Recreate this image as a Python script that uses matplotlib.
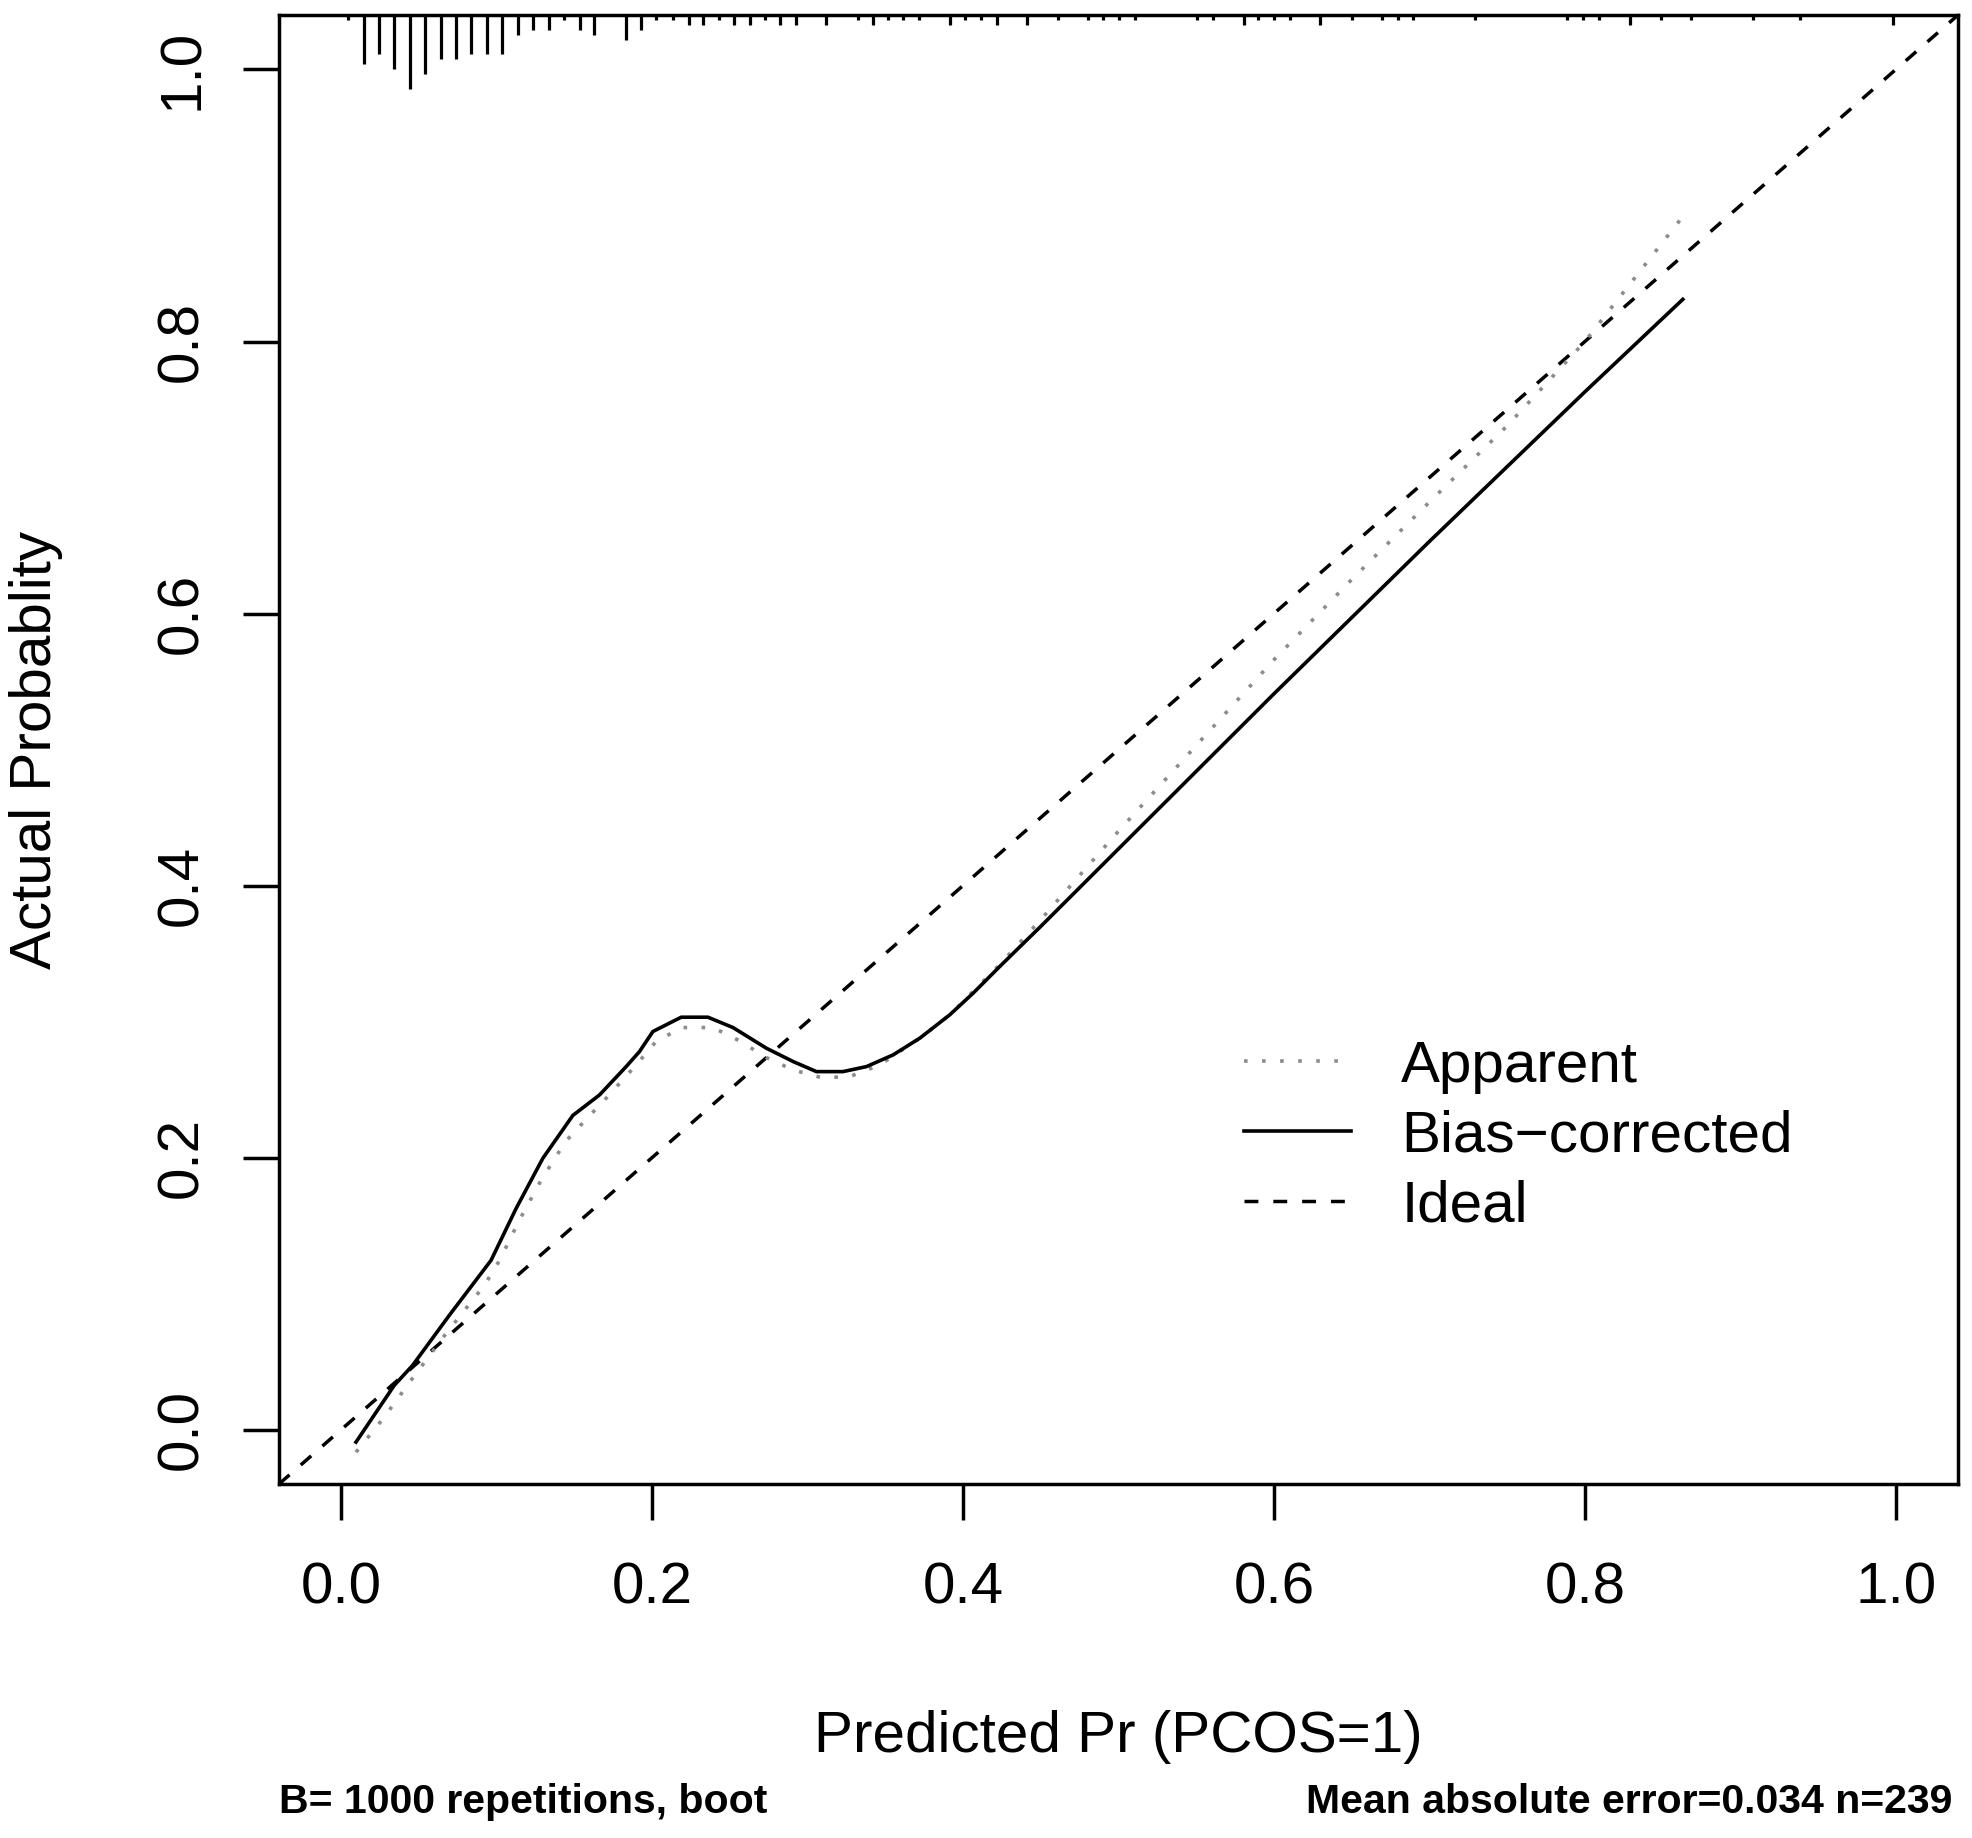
import numpy as np
import matplotlib
matplotlib.use("Agg")
import matplotlib.pyplot as plt

# calibration curves
apparent_x = [0.0095, 0.0277, 0.0444, 0.0674, 0.0921, 0.1017, 0.1146, 0.1286, 0.1442,
              0.1571, 0.1704, 0.1897, 0.2025, 0.2112, 0.2198, 0.2391, 0.2563, 0.2735,
              0.2907, 0.3089, 0.3271, 0.3464, 0.3722, 0.3915, 0.4237, 0.45, 0.50, 0.55,
              0.60, 0.65, 0.70, 0.75, 0.80, 0.861]
apparent_y = [-0.0166, 0.0092, 0.0355, 0.0706, 0.1061, 0.1241, 0.1540, 0.1834, 0.2117,
              0.2276, 0.2436, 0.2681, 0.2853, 0.2907, 0.2956, 0.2956, 0.2858, 0.2735,
              0.2644, 0.2588, 0.2595, 0.2681, 0.2878, 0.3050, 0.3420, 0.375, 0.440, 0.503,
              0.566, 0.625, 0.682, 0.738, 0.800, 0.889]

bias_x = [0.0095, 0.0341, 0.0459, 0.0695, 0.0964, 0.1125, 0.1297, 0.1490, 0.1661, 0.1833,
          0.1919, 0.2005, 0.2187, 0.2359, 0.2520, 0.2735, 0.2907, 0.3057, 0.3228, 0.3379,
          0.3550, 0.3722, 0.3915, 0.4065, 0.4237, 0.45, 0.50, 0.55, 0.60, 0.65, 0.70,
          0.75, 0.80, 0.863]
bias_y = [-0.0092, 0.0325, 0.0472, 0.0840, 0.1245, 0.1626, 0.1995, 0.2310, 0.2460, 0.2669,
          0.2780, 0.2927, 0.3032, 0.3032, 0.2956, 0.2804, 0.2706, 0.2632, 0.2632, 0.2669,
          0.2755, 0.2878, 0.3050, 0.3209, 0.3406, 0.370, 0.427, 0.484, 0.541, 0.597, 0.653,
          0.708, 0.763, 0.831]

# spike histogram of predicted probabilities (top rug)
rug_x = [0.0045, 0.0144, 0.0240, 0.0341, 0.0442, 0.0539, 0.0642, 0.0738, 0.0837, 0.0938,
         0.1035, 0.1135, 0.1236, 0.1335, 0.1432, 0.1533, 0.1629, 0.1833, 0.1930, 0.2026,
         0.2134, 0.2234, 0.2327, 0.2428, 0.2526, 0.2627, 0.2724, 0.2825, 0.2923, 0.3121,
         0.3321, 0.3421, 0.3518, 0.3614, 0.3717, 0.3915, 0.4012, 0.4113, 0.4216, 0.4409,
         0.4608, 0.4806, 0.4902, 0.5003, 0.5106, 0.5503, 0.5606, 0.5804, 0.5900, 0.6003,
         0.6104, 0.6298, 0.6501, 0.6695, 0.6798, 0.6894, 0.7296, 0.7886, 0.7987, 0.8090,
         0.8289, 0.8487, 0.8684, 0.9084, 0.9382, 0.9979]
rug_n = [1, 10, 8, 11, 15, 12, 9, 9, 8, 8,
         8, 4, 3, 3, 1, 3, 4, 5, 3, 1,
         1, 2, 2, 1, 2, 2, 1, 2, 2, 2,
         1, 2, 1, 1, 1, 2, 1, 1, 2, 2,
         1, 1, 1, 1, 1, 1, 1, 2, 1, 1,
         1, 2, 1, 1, 1, 1, 1, 1, 1, 1,
         2, 1, 1, 1, 1, 2]

ticks = [0.0, 0.2, 0.4, 0.6, 0.8, 1.0]
tick_labels = ["0.0", "0.2", "0.4", "0.6", "0.8", "1.0"]

plt.rcParams['font.family'] = ['Liberation Sans', 'DejaVu Sans']

fig = plt.figure(figsize=(19.72, 18.38), dpi=100)
ax = fig.add_axes([0.1415, 0.1926, 0.8514, 0.7992])
ax.set_xlim(-0.04, 1.04)
ax.set_ylim(-0.04, 1.04)

ax.axline((0, 0), (1, 1), color='black', lw=2.5, linestyle=(0, (4, 4.3)), label='Ideal')
ax.plot(apparent_x, apparent_y, color='#8c8c8c', lw=2.6, linestyle=(0, (1, 4)), label='Apparent')
ax.plot(bias_x, bias_y, color='black', lw=2.6, label='Bias\u2212corrected')

# spikes hang from the top of the frame, 15 counts ~ 5% of the axis range
top = 1.04
spike = 0.054 / 15
h = np.array(rug_n) * spike
ax.vlines(rug_x, top - h, top, color='black', lw=2.3)

for s in ax.spines.values():
    s.set_linewidth(2.5)

ax.set_xticks(ticks)
ax.set_xticklabels(tick_labels)
ax.set_yticks(ticks)
ax.set_yticklabels(tick_labels, rotation=90, va='center')
ax.tick_params(length=26, width=2.5, labelsize=42)
ax.tick_params(axis='x', pad=30)
ax.tick_params(axis='y', pad=24)

ax.set_xlabel('Predicted Pr (PCOS=1)', fontsize=42, va='center')
ax.xaxis.set_label_coords(0.5, -0.172)
ax.set_ylabel('Actual Probablity', fontsize=42, va='center')
ax.yaxis.set_label_coords(-0.1445, 0.5)

h_list, l_list = ax.get_legend_handles_labels()
order = [1, 2, 0]
ax.legend([h_list[i] for i in order], [l_list[i] for i in order],
          loc='center left', bbox_to_anchor=(0.575, 0.2365), frameon=False,
          fontsize=42, handlelength=1.83, handletextpad=0.86, labelspacing=0.27,
          borderpad=0, borderaxespad=0)

fig.text(0.1415, 0.0196, 'B= 1000 repetitions, boot', fontsize=29.5, fontweight='bold',
         ha='left', va='center')
fig.text(0.9899, 0.0196, 'Mean absolute error=0.034 n=239', fontsize=29.5, fontweight='bold',
         ha='right', va='center')

fig.savefig('out.png', dpi=100)
